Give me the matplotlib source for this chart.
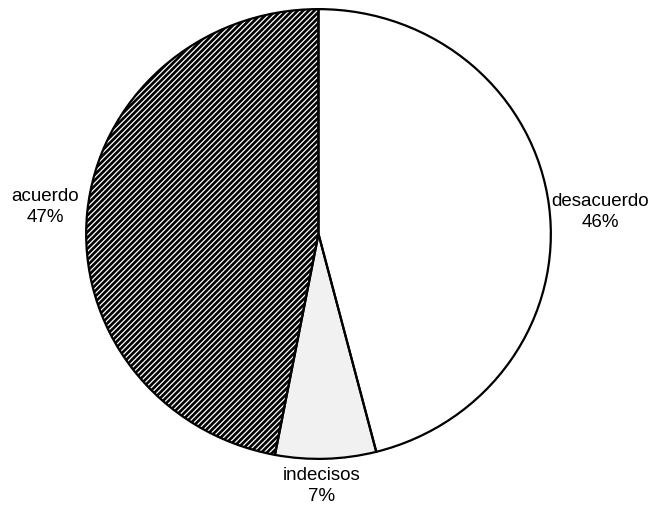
import matplotlib.pyplot as plt

labels = ['desacuerdo', 'indecisos', 'acuerdo']
values = [46, 7, 47]
faces = ['white', '#f1f1f1', 'black']
hatches = [None, None, '//////']

plt.rcParams['font.family'] = ['Liberation Sans', 'DejaVu Sans']
plt.rcParams['hatch.linewidth'] = 0.9

W, H = 654, 516
fig = plt.figure(figsize=(W / 100, H / 100), dpi=100)
# pie box in pixels: x 85..552, y 8..460
ax = fig.add_axes([85 / W, (H - 460) / H, 467 / W, 452 / H])

# fill layer (hatch in white on the dark slice)
wedges, _ = ax.pie(values, startangle=90, counterclock=False,
                   colors=faces, wedgeprops=dict(linewidth=0))
for w, h in zip(wedges, hatches):
    if h:
        w.set_hatch(h)
        w.set_edgecolor('white')
        w.set_linewidth(0)

# outline layer
ax.pie(values, startangle=90, counterclock=False,
       colors=['none'] * len(values),
       wedgeprops=dict(edgecolor='black', linewidth=1.6))

ax.set_aspect('auto')
ax.set_xlim(-1.005, 1.005)
ax.set_ylim(-1.005, 1.005)
ax.axis('off')

label_pos = {'desacuerdo': (600, 212), 'indecisos': (322, 486), 'acuerdo': (45, 207)}
for lab, val in zip(labels, values):
    x, y = label_pos[lab]
    fig.text(x / W, 1 - y / H, f'{lab}\n{val}%', ha='center', va='center',
             fontsize=13.5, linespacing=1.3)

fig.savefig('out.png', dpi=100)
